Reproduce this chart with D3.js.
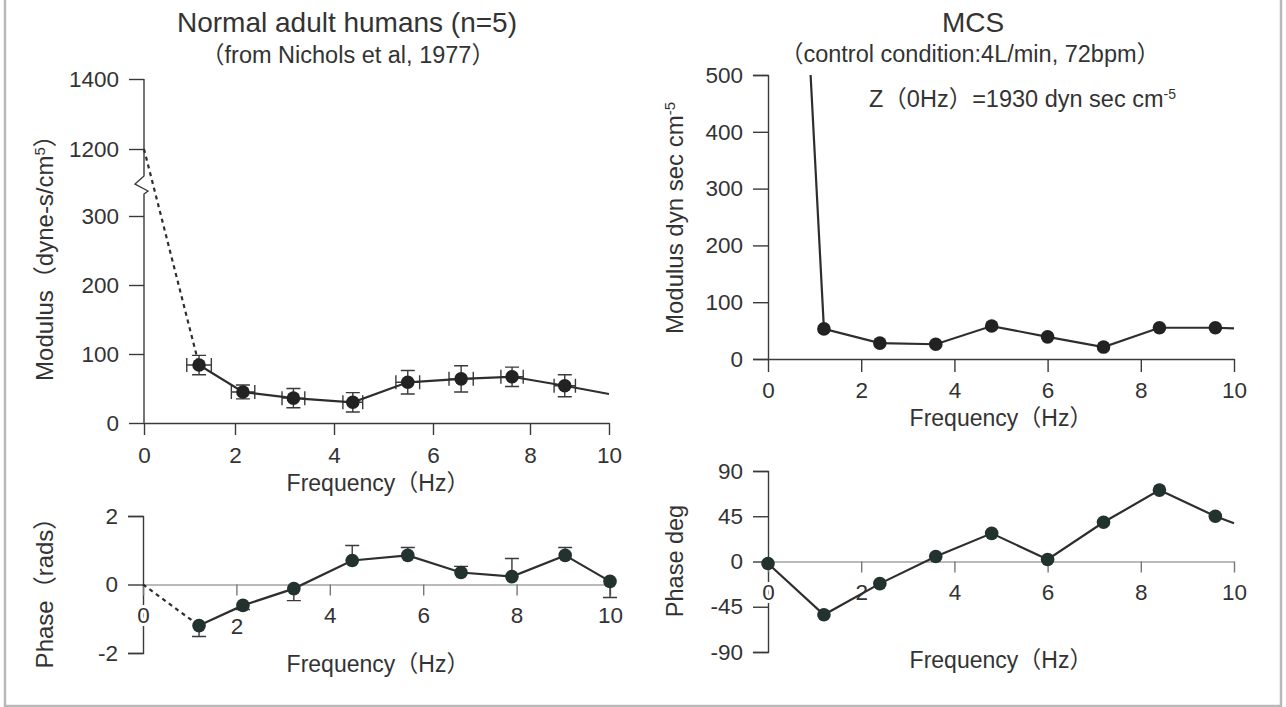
<!DOCTYPE html>
<html><head><meta charset="utf-8">
<script src="https://cdn.jsdelivr.net/npm/d3@7"></script>
<style>
body{margin:0;background:#fff}
svg{display:block}
text{font-family:"Liberation Sans",Arial,"Noto Sans CJK KR",sans-serif;fill:#333}
</style></head><body>
<svg id="c" width="1286" height="707"></svg>
<script>
// ---------------- data ----------------
// Normal adult humans (Nichols et al, 1977) – modulus panel
const nicholsFreq     = [1.21, 2.16, 3.18, 4.38, 5.49, 6.58, 7.63, 8.88];
const nicholsModulus  = [84, 45, 36, 30, 59, 64, 67, 54];
const nicholsModErr   = [14, 10, 14, 14, 17, 19, 14, 16];
const nicholsFreqErr  = [0.27, 0.24, 0.23, 0.2, 0.24, 0.25, 0.23, 0.27];
const nicholsZ0       = 1200;   // value at 0 Hz (dashed link)
const nicholsModTail  = 42;     // value where line ends at 10 Hz
// Normal adult humans – phase panel (rads)
const nicholsPhaseFreq = [1.2, 2.14, 3.23, 4.48, 5.67, 6.81, 7.9, 9.04, 10.0];
const nicholsPhase     = [-1.2, -0.61, -0.12, 0.70, 0.85, 0.35, 0.23, 0.85, 0.09];
const nicholsPhaseErr  = [-0.32, -0.12, -0.35, 0.44, 0.23, 0.18, 0.53, 0.23, -0.47];

// MCS – modulus panel
const mcsFreq     = [1.2, 2.4, 3.6, 4.8, 6.0, 7.2, 8.4, 9.6];
const mcsModulus  = [53, 28, 26, 58, 39, 21, 55, 55];
const mcsZ0       = 1930;
const mcsModTail  = 54;
// MCS – phase panel (deg)
const mcsPhaseFreq = [0, 1.2, 2.4, 3.6, 4.8, 6.0, 7.2, 8.4, 9.6];
const mcsPhase     = [-2, -53, -22, 5, 28, 2, 39, 71, 45];
const mcsPhaseTail = 38;

// ticks
const freqTicks       = [0, 2, 4, 6, 8, 10];
const leftModTicks    = [0, 100, 200, 300, 1200, 1400];
const leftModBreak    = [300, 1200];
const leftPhaseTicks  = [-2, 0, 2];
const mcsModTicks     = [0, 100, 200, 300, 400, 500];
const mcsPhaseTicks   = [-90, -45, 0, 45, 90];

// ---------------- drawing ----------------
const svg = d3.select("#c");
const INK = "#2e2e2e", AX = "#3a3a3a", MK = "#222", MKP = "#22322f";
const TICKFS = 22.5, LABFS = 23;
const fmt = d => String(d);

svg.append("rect").attr("x",5).attr("y",-3).attr("width",1276).attr("height",709)
  .attr("fill","#fff").attr("stroke","#b8b8b8").attr("stroke-width",2.5);

function styleAxis(g, color, halo){
  g.selectAll("path.domain").attr("stroke", color).attr("stroke-width",1.4);
  g.selectAll(".tick line").attr("stroke", color).attr("stroke-width",1.4);
  const t = g.selectAll(".tick text").attr("font-size",TICKFS).attr("fill","#383838")
    .style("font-family",'"Liberation Sans",Arial,sans-serif');
  if (halo) t.attr("stroke","#fff").attr("stroke-width",6).attr("paint-order","stroke").attr("stroke-linejoin","round");
}
function label(x,y,txt,fs,rot,anchor){
  const t = svg.append("text").attr("font-size",fs).attr("text-anchor",anchor||"middle");
  if (rot) t.attr("transform",`translate(${x},${y}) rotate(-90)`).attr("dy","0.35em");
  else t.attr("x",x).attr("y",y);
  t.text(txt);
  return t;
}
function sup(t, s, fs){
  t.append("tspan").attr("font-size",fs).attr("baseline-shift","super").text(s);
}
const line = (xs, ys) => d3.line().x(d=>xs(d[0])).y(d=>ys(d[1]));

// ===== Left top: modulus =====
const xL = d3.scaleLinear().domain(freqTicks).range([144,235,334,433,530,609]);
const yL = d3.scaleLinear().domain([0, leftModBreak[0], leftModBreak[1], 1400]).range([423,216,149,79]);

const gyL = svg.append("g").attr("transform","translate(144,0)")
  .call(d3.axisLeft(yL).tickValues(leftModTicks).tickFormat(fmt).tickSize(15).tickPadding(10).tickSizeOuter(0));
gyL.select("path.domain").remove();
styleAxis(gyL, AX);
// broken axis line
const bTop = 176;
gyL.append("path").attr("fill","none").attr("stroke",AX).attr("stroke-width",1.4)
  .attr("d",`M0,${yL(1400)}V${bTop}L-9,${bTop+8}L4,${bTop+15}L0,${bTop+18}V${yL(0)}`);

const gxL = svg.append("g").attr("transform",`translate(0,${yL(0)})`)
  .call(d3.axisBottom(xL).tickValues(freqTicks).tickFormat(fmt).tickSize(12).tickPadding(12).tickSizeOuter(0));
styleAxis(gxL, AX);

// dashed link from 0 Hz
svg.append("path").attr("fill","none").attr("stroke",INK).attr("stroke-width",2.2)
  .attr("stroke-dasharray","4,4")
  .attr("d", line(xL,yL)([[0,nicholsZ0],[nicholsFreq[0],nicholsModulus[0]]]));
// error bars
nicholsFreq.forEach((f,i)=>{
  const v = nicholsModulus[i], e = nicholsModErr[i], fe = nicholsFreqErr[i];
  const g = svg.append("g").attr("stroke",AX).attr("stroke-width",1.4).attr("fill","none");
  const cx = xL(f), y1 = yL(v-e), y2 = yL(v+e), x1 = xL(f-fe), x2 = xL(f+fe), cy = yL(v);
  g.append("path").attr("d",`M${cx},${y1}V${y2}M${cx-7},${y1}H${cx+7}M${cx-7},${y2}H${cx+7}`);
  g.append("path").attr("d",`M${x1},${cy}H${x2}M${x1},${cy-7}V${cy+7}M${x2},${cy-7}V${cy+7}`);
});
const lData = nicholsFreq.map((f,i)=>[f,nicholsModulus[i]]).concat([[10,nicholsModTail]]);
svg.append("path").attr("fill","none").attr("stroke",INK).attr("stroke-width",2.2)
  .attr("d", line(xL,yL)(lData));
svg.append("g").selectAll("circle").data(nicholsFreq).join("circle")
  .attr("cx",d=>xL(d)).attr("cy",(d,i)=>yL(nicholsModulus[i])).attr("r",6.8).attr("fill",MK);

label(378,491,"Frequency（Hz）",LABFS);
const lyl = label(45,252,"Modulus（dyne-s/cm",24,true);
sup(lyl,"5",15); lyl.append("tspan").text("）");

// ===== Left bottom: phase =====
const xLP = d3.scaleLinear().domain([0,10]).range([143,610]);
const yLP = d3.scaleLinear().domain([-2,2]).range([653,516]);
const gyLP = svg.append("g").attr("transform","translate(143,0)")
  .call(d3.axisLeft(yLP).tickValues(leftPhaseTicks).tickFormat(fmt).tickSize(15).tickPadding(10).tickSizeOuter(15));
styleAxis(gyLP, AX);
const gxLP = svg.append("g").attr("transform",`translate(0,${yLP(0)})`)
  .call(d3.axisBottom(xLP).tickValues(freqTicks).tickFormat(fmt).tickSize(11).tickPadding(12).tickSizeOuter(0));
styleAxis(gxLP, "#777", true);
gxLP.select("path.domain").attr("stroke-width",1.2);
gxLP.selectAll(".tick text").filter(d=>d===2).attr("y",34);

svg.append("path").attr("fill","none").attr("stroke",INK).attr("stroke-width",2.2)
  .attr("stroke-dasharray","4,4")
  .attr("d", line(xLP,yLP)([[0,0],[nicholsPhaseFreq[0],nicholsPhase[0]]]));
nicholsPhaseFreq.forEach((f,i)=>{
  const v = nicholsPhase[i], e = nicholsPhaseErr[i];
  const cx = xLP(f), ye = yLP(v+e);
  svg.append("path").attr("fill","none").attr("stroke",AX).attr("stroke-width",1.4)
    .attr("d",`M${cx},${yLP(v)}V${ye}M${cx-7},${ye}H${cx+7}`);
});
svg.append("path").attr("fill","none").attr("stroke",INK).attr("stroke-width",2.2)
  .attr("d", line(xLP,yLP)(nicholsPhaseFreq.map((f,i)=>[f,nicholsPhase[i]])));
svg.append("g").selectAll("circle").data(nicholsPhaseFreq).join("circle")
  .attr("cx",d=>xLP(d)).attr("cy",(d,i)=>yLP(nicholsPhase[i])).attr("r",6.8).attr("fill",MKP);

label(378,672,"Frequency（Hz）",LABFS);
label(45,587,"Phase（rads）",24,true);

// ===== Right top: MCS modulus =====
const xR = d3.scaleLinear().domain([0,10]).range([768,1234]);
const yR = d3.scaleLinear().domain([0,500]).range([359,75]);
const gyR = svg.append("g").attr("transform","translate(768,0)")
  .call(d3.axisLeft(yR).tickValues(mcsModTicks).tickFormat(fmt).tickSize(15).tickPadding(10).tickSizeOuter(15));
styleAxis(gyR, AX);
const gxR = svg.append("g").attr("transform",`translate(0,${yR(0)})`)
  .call(d3.axisBottom(xR).tickValues(freqTicks).tickFormat(fmt).tickSize(13).tickPadding(10).tickSizeOuter(0));
styleAxis(gxR, AX);

svg.append("clipPath").attr("id","clipR").append("rect")
  .attr("x",xR(0)).attr("y",yR(500)).attr("width",xR(10)-xR(0)+2).attr("height",yR(0)-yR(500)+10);
const rData = [[0,mcsZ0]].concat(mcsFreq.map((f,i)=>[f,mcsModulus[i]])).concat([[10,mcsModTail]]);
svg.append("path").attr("clip-path","url(#clipR)").attr("fill","none").attr("stroke",INK).attr("stroke-width",2.2)
  .attr("d", line(xR,yR)(rData));
svg.append("g").selectAll("circle").data(mcsFreq).join("circle")
  .attr("cx",d=>xR(d)).attr("cy",(d,i)=>yR(mcsModulus[i])).attr("r",6.8).attr("fill",MK);

label(1001,426,"Frequency（Hz）",LABFS);
const ryl = label(675,218,"Modulus dyn sec cm",24,true);
sup(ryl,"-5",15);
const zt = label(869,107,`Z（0Hz）=${mcsZ0} dyn sec cm`,23.5,false,"start");
sup(zt,"-5",14);

// ===== Right bottom: MCS phase =====
const yRP = d3.scaleLinear().domain([-90,90]).range([652,471]);
const gyRP = svg.append("g").attr("transform","translate(768,0)")
  .call(d3.axisLeft(yRP).tickValues(mcsPhaseTicks).tickFormat(fmt).tickSize(15).tickPadding(10).tickSizeOuter(15));
styleAxis(gyRP, AX);
const gxRP = svg.append("g").attr("transform",`translate(0,${yRP(0)})`)
  .call(d3.axisBottom(xR).tickValues(freqTicks).tickFormat(fmt).tickSize(11).tickPadding(12).tickSizeOuter(0));
styleAxis(gxRP, "#777", true);
gxRP.select("path.domain").attr("stroke-width",1.2);

const rpData = mcsPhaseFreq.map((f,i)=>[f,mcsPhase[i]]).concat([[10,mcsPhaseTail]]);
svg.append("path").attr("fill","none").attr("stroke",INK).attr("stroke-width",2.2)
  .attr("d", line(xR,yRP)(rpData));
svg.append("g").selectAll("circle").data(mcsPhaseFreq).join("circle")
  .attr("cx",d=>xR(d)).attr("cy",(d,i)=>yRP(mcsPhase[i])).attr("r",6.8).attr("fill",MKP);

label(1001,668,"Frequency（Hz）",LABFS);
label(675,561,"Phase deg",23.5,true);

// ===== Titles =====
label(347,32,"Normal adult humans (n=5)",28).attr("fill","#222");
label(348,63,"（from Nichols et al, 1977）",23.5);
label(973,32,"MCS",28).attr("fill","#222");
label(970,62,"（control condition:4L/min, 72bpm）",23.5);
</script>
</body></html>
